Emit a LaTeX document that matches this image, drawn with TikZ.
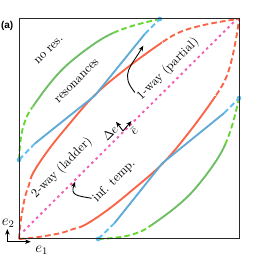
\documentclass[tikz,border=0pt]{standalone}
\usepackage{fontspec}
\newfontfamily\labelfont{Liberation Sans}
\usetikzlibrary{arrows.meta}
\definecolor{cred}{RGB}{250,100,70}
\definecolor{cblue}{RGB}{95,170,215}
\definecolor{cbluel}{RGB}{95,190,240}
\definecolor{cgreen}{RGB}{110,190,100}
\definecolor{cgreenl}{RGB}{100,215,50}
\definecolor{cpink}{RGB}{240,90,180}
\definecolor{cframe}{RGB}{40,40,40}
\def\redpath{plot[smooth,tension=0.6] coordinates {(0,0) (0.005,0.06) (0.014,0.12) (0.027,0.19) (0.045,0.245) (0.064,0.3) (0.13,0.4) (0.218,0.51) (0.345,0.655) (0.49,0.777) (0.645,0.89) (0.73,0.94) (0.82,0.968) (0.93,0.99) (1,1)}}
\def\greenpath{plot[smooth,tension=0.6] coordinates {(0,0.36) (0.004,0.42) (0.014,0.49) (0.035,0.555) (0.065,0.605) (0.141,0.708) (0.217,0.79) (0.323,0.874) (0.414,0.93) (0.52,0.97) (0.64,1)}}
\newcommand\mycurvefamily{%
  % red
  \begin{scope}\clip (0.06,-0.2) rectangle (0.65,1.2); \draw[cl,cred] \redpath; \end{scope}
  \begin{scope}\clip (-0.2,-0.2) rectangle (0.06,1.2) (0.65,-0.2) rectangle (1.2,1.2); \draw[cl,cred,dsh] \redpath; \end{scope}
  % green
  \begin{scope}\clip (0.062,-0.2) rectangle (0.43,1.2); \draw[cl,cgreen] \greenpath; \end{scope}
  \begin{scope}\clip (-0.2,-0.2) rectangle (0.062,1.2) (0.43,-0.2) rectangle (1.2,1.2); \draw[cl,cgreenl,dsh] \greenpath; \end{scope}
  % blue
  \draw[cl,cbluel,dsh] (0,0.36) -- (0.072,0.434);
  \draw[cl,cblue,line join=round] (0.072,0.434) -- (0.345,0.652) -- (0.572,0.932);
  \draw[cl,cbluel,dsh] (0.572,0.932) -- (0.64,1);
  \fill[cbluel] (0,0.36) circle (1.9pt) (0.64,1) circle (1.9pt);
}
\begin{document}
\begin{tikzpicture}[x=176pt,y=176pt,
  cl/.style={line width=1.5pt},
  dsh/.style={dash pattern=on 4.5pt off 2.5pt},
  lab/.style={rotate=45, inner sep=0pt},
  arr/.style={line width=0.7pt, -{Stealth[length=4.5pt,width=3.6pt]}},
]
\useasboundingbox (-0.0864,-0.0864) rectangle (1.0864,1.0864);
% diagonal
\draw[line width=1.5pt, cpink, dash pattern=on 2pt off 2.8pt] (0.02,0.035) -- (0.99,1);
% upper-left family and its mirror image
\mycurvefamily
\begin{scope}[cm={0,1,1,0,(0,0)}]
\mycurvefamily
\end{scope}
% frame
\node[draw=cframe, line width=0.8pt, minimum width=176pt, minimum height=176pt, inner sep=0pt, anchor=south west] (frame) at (0,0) {};
% labels
\node[font=\labelfont\bfseries\fontsize{8}{9}\selectfont, inner sep=0pt] (tag) at (-0.054,0.969) {(a)};
\node[lab] (nores) at (0.136,0.859) {no res.};
\node[lab] (reson) at (0.264,0.718) {resonances};
\node[lab] (oneway) at (0.677,0.773) {1-way (partial)};
\node[lab] (twoway) at (0.195,0.323) {2-way (ladder)};
\node[lab] (inft) at (0.432,0.264) {inf. temp.};
\node[lab] (de) at (0.414,0.482) {$\Delta e$};
\node[lab] (ebar) at (0.523,0.491) {$\bar{e}$};
% Delta e / e-bar arrows
\coordinate (v) at (0.473,0.491);
\coordinate (vl) at (0.441,0.533);
\coordinate (vr) at (0.511,0.536);
\draw[arr] (v) -- (vl);
\draw[arr] (v) -- (vr);
% curved pointer arrows
\coordinate (s1) at (0.527,0.666);
\coordinate (t1) at (0.565,0.879);
\draw[arr] (s1) to[out=130,in=-120,looseness=1.3] (t1);
\coordinate (s2) at (0.33,0.185);
\coordinate (t2) at (0.255,0.26);
\draw[arr] (s2) to[out=170,in=-110,looseness=1.6] (t2);
% axes
\coordinate (o) at (-0.053,-0.0123);
\coordinate (ey) at (-0.053,0.045);
\coordinate (ex) at (0.053,-0.0123);
\draw[arr] (o) -- (ey);
\draw[arr] (o) -- (ex);
\node[font=\large, inner sep=0pt] (e2) at (-0.049,0.07) {$e_2$};
\node[font=\large, inner sep=0pt] (e1) at (0.103,-0.05) {$e_1$};
\end{tikzpicture}
\end{document}
